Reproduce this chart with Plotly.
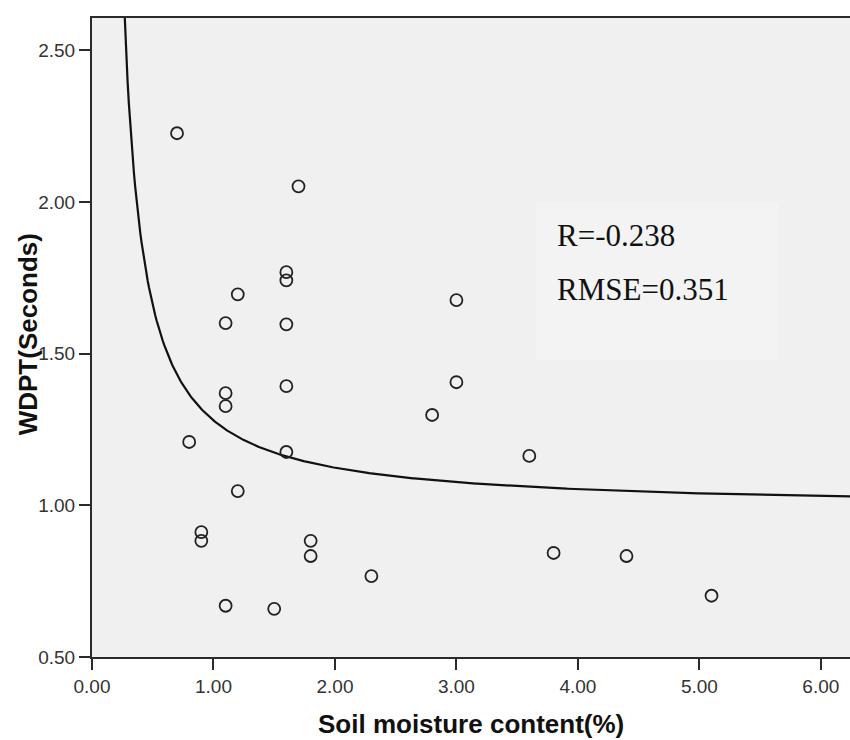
import numpy as np
import plotly.graph_objects as go

# Soil moisture content (%) and water drop penetration time (s)
moisture = [0.7, 1.7, 1.6, 1.6, 1.2, 1.1, 1.6, 1.6, 1.1, 1.1, 0.8, 1.6, 1.2,
            0.9, 0.9, 1.8, 1.8, 2.3, 1.1, 1.5, 3.0, 3.0, 2.8, 3.6, 3.8, 4.4, 5.1]
wdpt = [2.227, 2.052, 1.769, 1.742, 1.696, 1.601, 1.597, 1.393, 1.370, 1.327,
        1.209, 1.176, 1.047, 0.912, 0.883, 0.883, 0.833, 0.767, 0.669, 0.659,
        1.677, 1.406, 1.298, 1.163, 0.843, 0.833, 0.702]

# S-curve model: WDPT = exp(b0 + b1 / moisture)
b0 = -0.013
b1 = 0.26
stats_lines = ["R=-0.238", "RMSE=0.351"]

x_ticks = [0, 1, 2, 3, 4, 5, 6]
y_ticks = [0.5, 1.0, 1.5, 2.0, 2.5]

xc = np.linspace(0.2, 6.4, 600)
yc = np.exp(b0 + b1 / xc)

ink = "#2a2a2a"
fig = go.Figure()

fig.add_trace(go.Scatter(
    x=xc, y=yc, mode="lines",
    line=dict(color="#111111", width=2.2),
    hoverinfo="skip", showlegend=False,
))
fig.add_trace(go.Scatter(
    x=moisture, y=wdpt, mode="markers",
    marker=dict(symbol="circle-open", size=12, color="#222222",
                line=dict(width=1.8, color="#222222")),
    showlegend=False,
))

# statistics panel
fig.add_shape(type="rect", xref="x", yref="y",
              x0=3.657, x1=5.649, y0=1.479, y1=1.999,
              fillcolor="#f3f3f3", line=dict(width=0), layer="below")
for i, txt in enumerate(stats_lines):
    fig.add_annotation(
        x=3.81, y=1.89 - i * 0.178, xref="x", yref="y",
        text=txt, showarrow=False, xanchor="left", yanchor="middle",
        font=dict(family="Liberation Serif", size=31, color="#111111"),
    )

# axis titles
fig.add_annotation(
    x=0.5, y=0, xref="paper", yref="paper", yshift=-67,
    text="<b>Soil moisture content(%)</b>", showarrow=False,
    xanchor="center", yanchor="middle",
    font=dict(family="Liberation Sans", size=26, color="#111111"),
)
fig.add_annotation(
    x=0, y=0.505, xref="paper", yref="paper", xshift=-64,
    text="<b>WDPT(Seconds)</b>", showarrow=False, textangle=-90,
    xanchor="center", yanchor="middle",
    font=dict(family="Liberation Sans", size=26, color="#111111"),
)

axis_common = dict(
    showgrid=False, zeroline=False, showline=True,
    linecolor=ink, linewidth=2, ticks="outside", ticklen=11,
    tickwidth=2, tickcolor=ink,
    tickfont=dict(family="Liberation Sans", size=19, color="#333333"),
)

fig.update_layout(
    width=850, height=740,
    margin=dict(l=92, r=0, t=18, b=83),
    paper_bgcolor="white", plot_bgcolor="#f0f0f0",
    xaxis=dict(range=[0, 6.24], tickvals=x_ticks,
               ticktext=[f"{v:.2f}" for v in x_ticks], mirror=True,
               **axis_common),
    yaxis=dict(range=[0.5, 2.607], tickvals=y_ticks,
               ticktext=[f"{v:.2f}" for v in y_ticks],
               **axis_common),
)

fig.write_html("out.html")
